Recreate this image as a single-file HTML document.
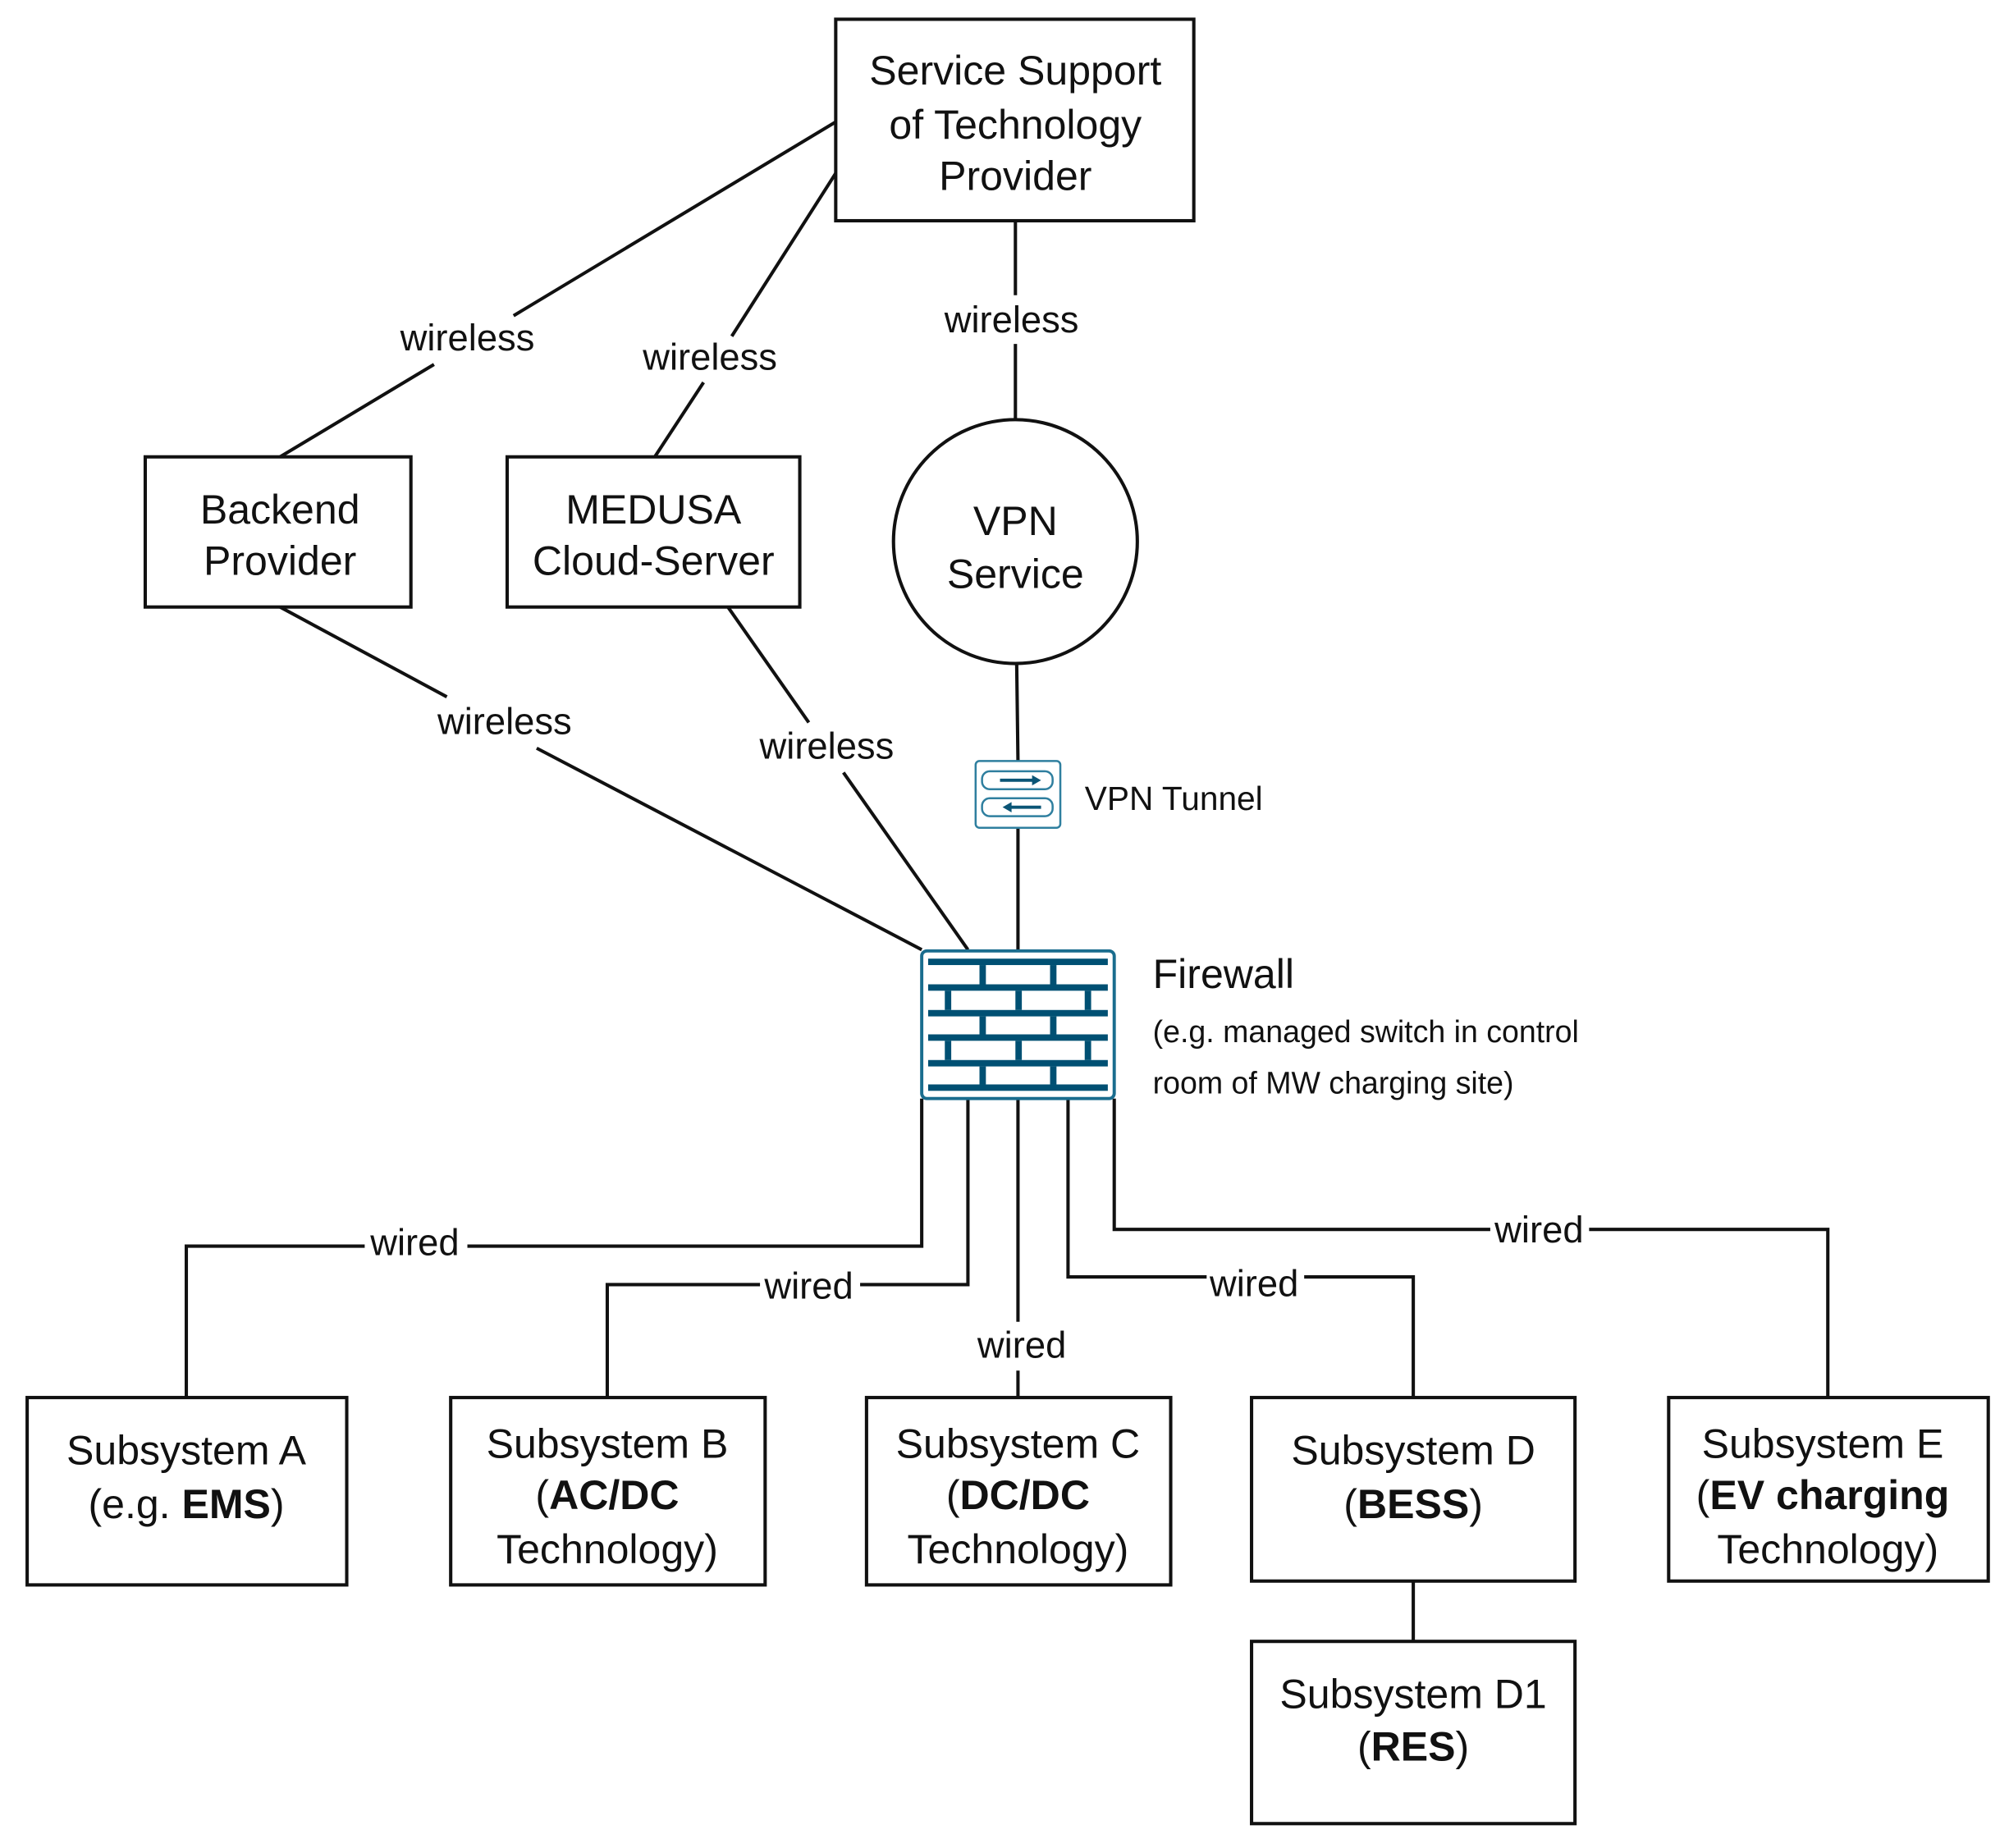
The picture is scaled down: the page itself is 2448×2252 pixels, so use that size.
<!DOCTYPE html>
<html><head><meta charset="utf-8"><style>html,body{margin:0;padding:0;background:#fff}svg{display:block}svg text{font-family:"Liberation Sans","DejaVu Sans",sans-serif}</style></head>
<body>
<svg width="2448" height="2252" viewBox="0 0 1565 1440" xmlns="http://www.w3.org/2000/svg" style="font-family:'Liberation Sans',sans-serif">
<rect width="1565" height="1440" fill="#fff"/>
<g stroke="#111" stroke-width="2.6" fill="none">
<line x1="651" y1="95" x2="400" y2="246"/>
<line x1="338" y1="284" x2="218" y2="356"/>
<line x1="651" y1="135" x2="570" y2="262"/>
<line x1="548" y1="298" x2="510" y2="356"/>
<line x1="791" y1="172" x2="791" y2="230"/>
<line x1="791" y1="268" x2="791" y2="327"/>
<line x1="218" y1="473" x2="348" y2="543"/>
<line x1="418" y1="583" x2="718" y2="740"/>
<line x1="567" y1="473" x2="630" y2="563"/>
<line x1="657" y1="602" x2="754" y2="740"/>
<line x1="792" y1="517" x2="793" y2="593"/>
<line x1="793" y1="645" x2="793" y2="740"/>
<polyline points="718,856 718,971 364,971"/>
<polyline points="284,971 145,971 145,1089"/>
<polyline points="754,856 754,1001 670,1001"/>
<polyline points="592,1001 473,1001 473,1089"/>
<line x1="793" y1="856" x2="793" y2="1030"/>
<line x1="793" y1="1068" x2="793" y2="1089"/>
<polyline points="832,856 832,995 940,995"/>
<polyline points="1016,995 1101,995 1101,1089"/>
<polyline points="868,856 868,958 1161,958"/>
<polyline points="1238,958 1424,958 1424,1089"/>
<line x1="1101" y1="1232" x2="1101" y2="1279"/>
<rect x="651" y="15" width="279" height="157"/>
<rect x="113" y="356" width="207" height="117"/>
<rect x="395" y="356" width="228" height="117"/>
<circle cx="791" cy="422" r="95"/>
<rect x="21" y="1089" width="249" height="146"/>
<rect x="351" y="1089" width="245" height="146"/>
<rect x="675" y="1089" width="237" height="146"/>
<rect x="975" y="1089" width="252" height="143"/>
<rect x="1300" y="1089" width="249" height="143"/>
<rect x="975" y="1279" width="252" height="142"/>
</g>
<g stroke="#2f7f9f" fill="none" stroke-width="1.6">
<rect x="760" y="593" width="66" height="52" rx="3" fill="#fff"/>
<rect x="765" y="601" width="55" height="14" rx="6"/>
<rect x="765" y="622" width="55" height="14" rx="6"/>
</g>
<g stroke="#0b5576" stroke-width="2.5" fill="#0b5576">
<line x1="779" y1="608" x2="806" y2="608"/><polygon points="804,604 811,608 804,612" stroke="none"/>
<line x1="786" y1="629" x2="811" y2="629"/><polygon points="788,625 781,629 788,633" stroke="none"/>
</g>
<g>
<rect x="718" y="741" width="150" height="115" rx="4" fill="#fff" stroke="#1a6d8e" stroke-width="2.5"/>
<g fill="#005073">
<rect x="723" y="747" width="140" height="5"/>
<rect x="723" y="767" width="140" height="5"/>
<rect x="723" y="787" width="140" height="5"/>
<rect x="723" y="806" width="140" height="5"/>
<rect x="723" y="826" width="140" height="5"/>
<rect x="723" y="845" width="140" height="5"/>
<rect x="763" y="752" width="5" height="15"/><rect x="818" y="752" width="5" height="15"/>
<rect x="736" y="772" width="5" height="15"/><rect x="791" y="772" width="5" height="15"/><rect x="845" y="772" width="5" height="15"/>
<rect x="763" y="792" width="5" height="14"/><rect x="818" y="792" width="5" height="14"/>
<rect x="736" y="811" width="5" height="15"/><rect x="791" y="811" width="5" height="15"/><rect x="845" y="811" width="5" height="15"/>
<rect x="763" y="831" width="5" height="14"/><rect x="818" y="831" width="5" height="14"/>
</g>
</g>
<g fill="#111" font-size="32" text-anchor="middle">
<text x="791" y="66">Service Support</text>
<text x="791" y="108">of Technology</text>
<text x="791" y="148">Provider</text>
<text x="218" y="408">Backend</text>
<text x="218" y="448">Provider</text>
<text x="509" y="408">MEDUSA</text>
<text x="509" y="448">Cloud-Server</text>
<text x="791" y="417">VPN</text>
<text x="791" y="458">Service</text>
<text x="145" y="1141">Subsystem A</text>
<text x="145" y="1183">(e.g. <tspan font-weight="bold">EMS</tspan>)</text>
<text x="473" y="1136">Subsystem B</text>
<text x="473" y="1176">(<tspan font-weight="bold">AC/DC</tspan></text>
<text x="473" y="1218">Technology)</text>
<text x="793" y="1136">Subsystem C</text>
<text x="793" y="1176">(<tspan font-weight="bold">DC/DC</tspan></text>
<text x="793" y="1218">Technology)</text>
<text x="1101" y="1141">Subsystem D</text>
<text x="1101" y="1183">(<tspan font-weight="bold">BESS</tspan>)</text>
<text x="1420" y="1136">Subsystem E</text>
<text x="1420" y="1176">(<tspan font-weight="bold">EV charging</tspan></text>
<text x="1424" y="1218">Technology)</text>
<text x="1101" y="1331">Subsystem D1</text>
<text x="1101" y="1372">(<tspan font-weight="bold">RES</tspan>)</text>
</g>
<g fill="#111" font-size="29" text-anchor="middle">
<text x="364" y="273">wireless</text>
<text x="553" y="288">wireless</text>
<text x="788" y="259">wireless</text>
<text x="393" y="572">wireless</text>
<text x="644" y="591">wireless</text>
<text x="323" y="978">wired</text>
<text x="630" y="1012">wired</text>
<text x="796" y="1058">wired</text>
<text x="977" y="1010">wired</text>
<text x="1199" y="968">wired</text>
</g>
<g fill="#111">
<text x="845" y="631" font-size="26">VPN Tunnel</text>
<text x="898" y="770" font-size="32">Firewall</text>
<text x="898" y="812" font-size="24">(e.g. managed switch in control</text>
<text x="898" y="852" font-size="24">room of MW charging site)</text>
</g>
</svg>
</body></html>
